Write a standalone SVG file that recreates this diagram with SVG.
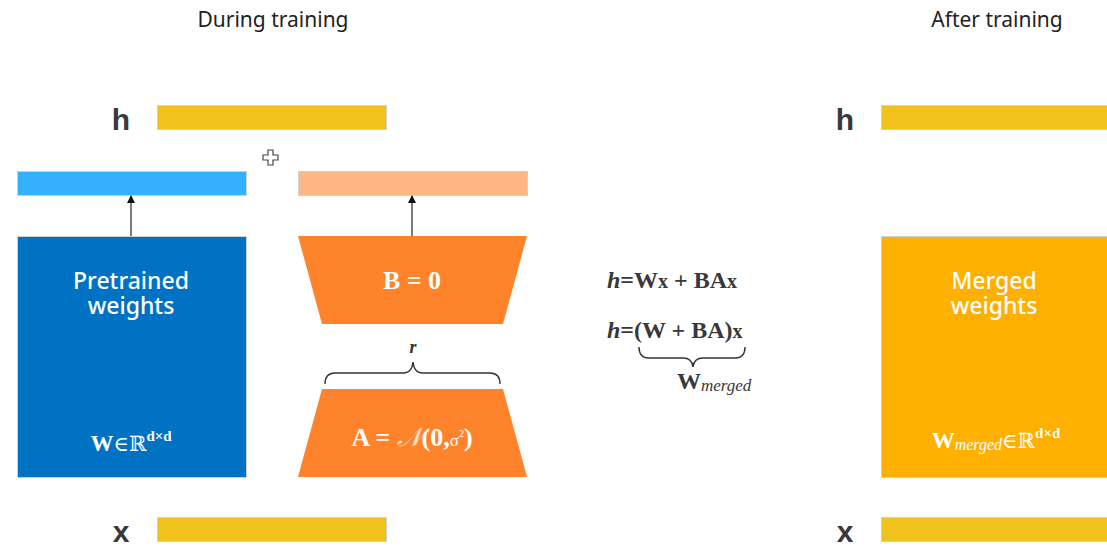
<svg xmlns="http://www.w3.org/2000/svg" width="1107" height="547" viewBox="0 0 1107 547">
<style>
.title{font-family:"Noto Sans","Open Sans",sans-serif;font-size:21px;fill:#222;text-anchor:middle}
.var{font-family:"Liberation Sans",Arial,sans-serif;font-weight:bold;font-size:30px;fill:#393939;text-anchor:middle}
.bar{stroke:#d0d0d0;stroke-width:1}
.lbl{font-family:"Noto Sans","Open Sans",sans-serif;font-size:23px;font-weight:500;fill:#fff;text-anchor:middle}
.math{font-family:"Liberation Serif","DejaVu Serif",serif;font-weight:bold;fill:#fff}
.eq{font-family:"Liberation Serif","DejaVu Serif",serif;font-weight:bold;font-size:24px;fill:#393939}
.conn{stroke:#222;stroke-width:1.2;fill:none}
.brace{stroke:#333;stroke-width:1.4;fill:none}
</style>
<defs>
<marker id="arr" markerWidth="8" markerHeight="8" refX="7" refY="4" orient="auto" markerUnits="userSpaceOnUse">
<path d="M0,0 L8,4 L0,8 Z" fill="#111"/>
</marker>
</defs>
<rect width="1107" height="547" fill="#fff"/>
<text class="title" x="273" y="27">During training</text>
<text class="title" x="997" y="27">After training</text>

<g id="h-left"><text class="var" x="121" y="130">h</text><rect class="bar" x="157.5" y="105.5" width="229" height="24" fill="#F1C21B"/></g>
<g id="x-left"><text class="var" x="121" y="542">x</text><rect class="bar" x="157.5" y="517.5" width="229" height="24" fill="#F1C21B"/></g>
<g id="plus"><path d="M268,150 h5 v5 h5 v5 h-5 v5 h-5 v-5 h-5 v-5 h5 Z" fill="#fff" stroke="#444" stroke-width="1.2"/></g>
<g id="blue-bar"><rect class="bar" x="17.5" y="171.5" width="229" height="24" fill="#33B1FF"/></g>
<g id="orange-bar"><rect class="bar" x="298.5" y="171.5" width="229" height="24" fill="#FFB784"/></g>
<g id="pretrained"><rect class="bar" x="17.5" y="236.5" width="229" height="241" fill="#0072C3"/>
<text class="lbl" x="131" y="289">Pretrained<tspan x="131" dy="25">weights</tspan></text>
<text class="math" x="131" y="451" text-anchor="middle"><tspan font-size="23">W</tspan><tspan font-size="21" font-weight="normal">∈ℝ</tspan><tspan font-size="15" dy="-10">d×d</tspan></text></g>
<g id="B"><path d="M298,236 L527,236 L503,324 L322,324 Z" fill="#FF832B"/>
<text class="math" x="412" y="289" font-size="26" text-anchor="middle">B = 0</text></g>
<g id="A"><path d="M322,389 L503,389 L527,477 L298,477 Z" fill="#FF832B"/>
<text class="math" x="412" y="446" font-size="26" text-anchor="middle">A = <tspan font-style="italic" font-weight="normal" fill="#fbe0c8">𝒩</tspan>(0,<tspan font-size="17" font-weight="normal">σ</tspan><tspan font-size="10" dy="-9" font-weight="normal">2</tspan><tspan dy="9">)</tspan></text></g>
<g id="r-brace"><path class="brace" d="M325,384 Q325,373 335,373 L403,373 Q412,373 413,362 Q414,373 423,373 L490,373 Q500,373 500,384"/>
<text x="413" y="353" font-family="Liberation Serif,serif" font-style="italic" font-weight="bold" font-size="18" fill="#333" text-anchor="middle">r</text></g>
<g id="equations">
<text class="eq" x="607" y="288"><tspan font-style="italic">h</tspan>=W<tspan font-size="20">x</tspan> + BA<tspan font-size="20">x</tspan></text>
<text class="eq" x="607" y="338"><tspan font-style="italic">h</tspan>=(W + BA)<tspan font-size="20">x</tspan></text>
<path class="brace" d="M639,347 Q639,358 649,358 L683,358 Q692,358 693,367 Q694,358 703,358 L735,358 Q745,358 745,347"/>
<text class="eq" x="677" y="389">W<tspan font-size="17" font-style="italic" font-weight="normal" dy="2">merged</tspan></text>
</g>
<g id="h-right"><text class="var" x="845" y="130">h</text><rect class="bar" x="881.5" y="105.5" width="230" height="24" fill="#F1C21B"/></g>
<g id="x-right"><text class="var" x="845" y="542">x</text><rect class="bar" x="881.5" y="517.5" width="230" height="24" fill="#F1C21B"/></g>
<g id="merged"><rect class="bar" x="881.5" y="236.5" width="230" height="241" fill="#FFB000"/>
<text class="lbl" x="994" y="289">Merged<tspan x="994" dy="25">weights</tspan></text>
<text class="math" x="996" y="448" text-anchor="middle"><tspan font-size="23">W</tspan><tspan font-size="16" font-style="italic" font-weight="normal" dy="2">merged</tspan><tspan font-size="21" font-weight="normal" dy="-2">∈ℝ</tspan><tspan font-size="15" dy="-10">d×d</tspan></text></g>
<g id="connectors">
<line class="conn" x1="131" y1="236" x2="131" y2="196" marker-end="url(#arr)"/>
<line class="conn" x1="412" y1="236" x2="412" y2="196" marker-end="url(#arr)"/>
</g>
</svg>
